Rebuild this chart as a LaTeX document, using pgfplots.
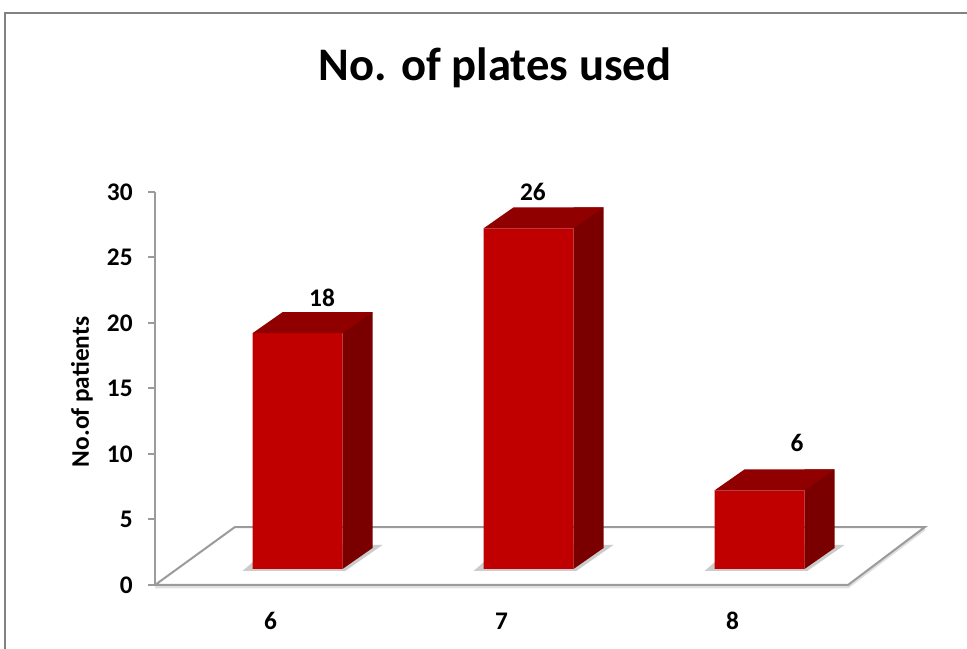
\documentclass[border=0pt]{standalone}
\usepackage{pgfplots}
\usepackage{pgfplotstable}
\pgfplotsset{compat=1.18}
\usepackage{fontspec}
\setmainfont{Carlito}
\definecolor{barfront}{RGB}{192,0,0}
\definecolor{bartop}{RGB}{145,0,0}
\definecolor{barside}{RGB}{122,0,0}
\definecolor{axisgray}{RGB}{155,155,155}
\definecolor{framegray}{RGB}{130,130,130}
\pgfdeclareplotmark{topface}{%
 \pgfpathmoveto{\pgfpoint{-13.5pt}{12pt}}%
 \pgfpathlineto{\pgfpoint{54pt}{12pt}}%
 \pgfpathlineto{\pgfpoint{76.5pt}{27.75pt}}%
 \pgfpathlineto{\pgfpoint{9pt}{27.75pt}}%
 \pgfpathclose
 \pgfusepathqfill}
\pgfdeclareplotmark{basetri}{%
 \pgfpathmoveto{\pgfpoint{54pt}{12pt}}%
 \pgfpathlineto{\pgfpoint{54pt}{27.75pt}}%
 \pgfpathlineto{\pgfpoint{76.5pt}{27.75pt}}%
 \pgfpathclose
 \pgfusepathqfill}
\pgfdeclareplotmark{shadow}{%
 \pgfpathmoveto{\pgfpoint{-21pt}{10.5pt}}%
 \pgfpathlineto{\pgfpoint{56pt}{10.5pt}}%
 \pgfpathlineto{\pgfpoint{84pt}{30pt}}%
 \pgfpathlineto{\pgfpoint{1.5pt}{30pt}}%
 \pgfpathclose
 \pgfusepathqfill}
\pgfplotstableread{
x y
6 18
7 26
8 6
}\datatable
\begin{document}
\begin{tikzpicture}
\useasboundingbox (0,0) rectangle (725.25pt,486.75pt);
\draw[framegray, line width=1pt] (3.75pt,-10pt) -- (3.75pt,477pt) -- (740pt,477pt);
\node[font=\bfseries\fontsize{35}{40}\selectfont] at (371.25pt,436pt) {No. of plates used};
\node[font=\bfseries\fontsize{19}{22}\selectfont, rotate=90] at (61.5pt,192.75pt) {No.of patients};
\begin{axis}[
  at={(116.25pt,48pt)}, anchor=south west,
  scale only axis, width=519.75pt, height=294.75pt,
  xmin=5.5, xmax=8.5, ymin=0, ymax=30,
  clip=false, clip marker paths=true,
  axis y line*=left, axis x line*=bottom,
  x axis line style={draw=none},
  y axis line style={draw=axisgray, line width=1.5pt},
  xtick={6,7,8}, ytick={0,5,...,30},
  xtick style={draw=none},
  ytick style={draw=axisgray, line width=1.5pt},
  tick align=outside, major tick length=5.25pt,
  /pgf/number format/assume math mode=true,
  ticklabel style={font=\bfseries\fontsize{19}{20}\selectfont, text=black},
  xticklabel style={anchor=center, yshift=-22pt},
  yticklabel style={anchor=east, xshift=-8pt},
]
% floor shadow and floor
\addplot[draw=black!12, line width=2pt, yshift=-1.5pt] coordinates {(5.5,0) (8.5,0) (8.833,4.427)};
\addplot[draw=axisgray, line width=1.5pt, fill=white] coordinates {(5.5,0) (8.5,0) (8.833,4.427) (5.846,4.427) (5.5,0)};
% bar shadows
\addplot[only marks, mark=shadow, mark options={fill=black!20, draw=none}] table[x=x,y expr=0] {\datatable};
% side faces
\addplot[ybar, bar width=22.5pt, bar shift=65.25pt, yshift=27.75pt, fill=barside, draw=none] table[x=x,y=y] {\datatable};
\addplot[only marks, mark=basetri, mark options={fill=barside, draw=none}] table[x=x,y expr=0] {\datatable};
% front faces
\addplot[ybar, bar width=67.5pt, bar shift=20.25pt, yshift=12pt, fill=barfront, draw=none] table[x=x,y=y] {\datatable};
% top faces
\addplot[only marks, mark=topface, mark options={fill=bartop, draw=none}] table[x=x,y=y] {\datatable};
% data labels
\addplot[draw=none, mark=none, nodes near coords, point meta=explicit symbolic,
  nodes near coords style={anchor=center, font=\bfseries\fontsize{19}{20}\selectfont, text=black}]
  coordinates {(6.223,21.9) [18] (7.136,30.0) [26] (8.279,10.84) [6]};
\end{axis}
\end{tikzpicture}
\end{document}
